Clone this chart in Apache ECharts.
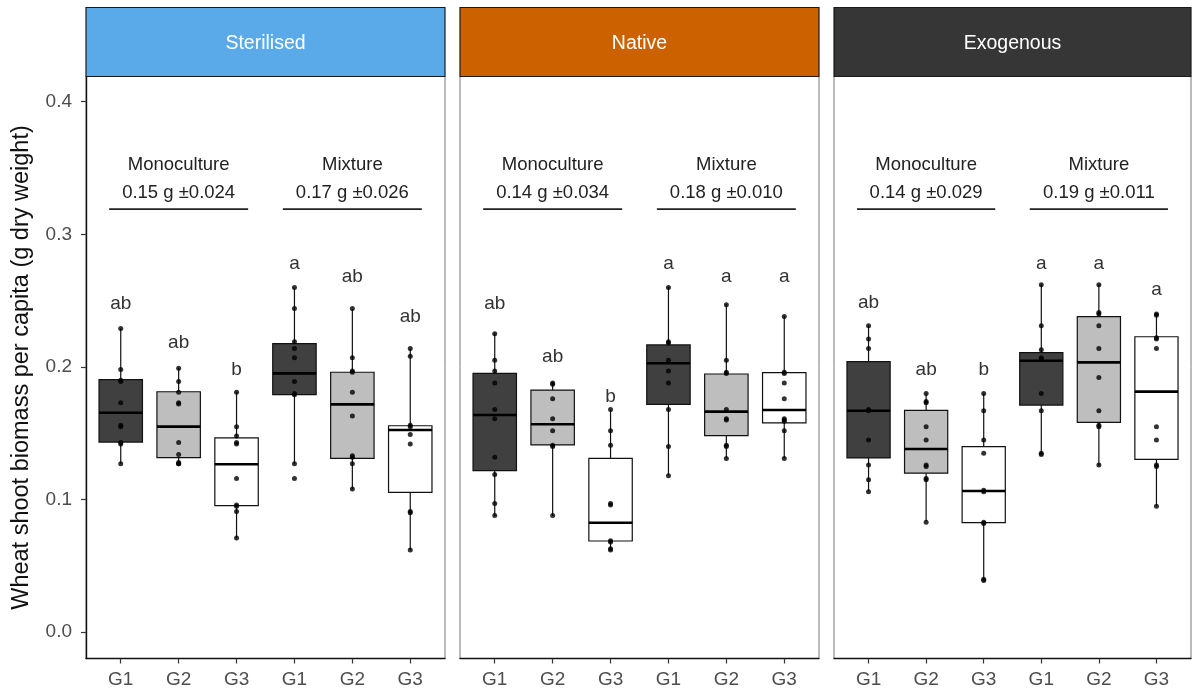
<!DOCTYPE html>
<html>
<head>
<meta charset="utf-8">
<script src="https://cdn.jsdelivr.net/npm/echarts@6.0.0/dist/echarts.min.js"></script>
<style>
  html, body { margin: 0; padding: 0; background: #ffffff; }
  #chart { width: 1192px; height: 693px; }
</style>
</head>
<body>
<div id="chart"></div>
<script>
// ---------------- data ----------------
const panelNames = ['Sterilised', 'Native', 'Exogenous'];
const xLabels = ['G1', 'G2', 'G3', 'G1', 'G2', 'G3'];
const yTicks = [0.0, 0.1, 0.2, 0.3, 0.4];
const groupNames = ['Monoculture', 'Mixture'];
const groupMeans = [[0.15, 0.17], [0.14, 0.18], [0.14, 0.19]];
const groupErrors = [[0.024, 0.026], [0.034, 0.010], [0.029, 0.011]];
const yTitle = 'Wheat shoot biomass per capita (g dry weight)';

// box stats: [min (lower whisker), Q1, median, Q3, max (upper whisker)]
const sterilisedBoxes = [
  [0.127, 0.1434, 0.1655, 0.1904, 0.229],
  [0.127, 0.1316, 0.155, 0.1813, 0.1995],
  [0.0708, 0.0954, 0.1266, 0.1465, 0.1813],
  [0.127, 0.1792, 0.1952, 0.2176, 0.2598],
  [0.1078, 0.1311, 0.1718, 0.196, 0.2437],
  [0.062, 0.1055, 0.1525, 0.1557, 0.2138]
];
const nativeBoxes = [
  [0.0877, 0.1218, 0.1638, 0.1952, 0.2254],
  [0.0877, 0.1412, 0.1568, 0.1826, 0.1877],
  [0.0625, 0.0688, 0.0826, 0.1311, 0.1676],
  [0.1183, 0.1718, 0.2028, 0.2166, 0.2605],
  [0.1311, 0.1482, 0.1663, 0.1947, 0.2472],
  [0.1311, 0.1578, 0.1676, 0.1957, 0.2384]
];
const exogenousBoxes = [
  [0.106, 0.1314, 0.167, 0.204, 0.2311],
  [0.0834, 0.1199, 0.1382, 0.1673, 0.180],
  [0.0394, 0.0826, 0.1065, 0.1399, 0.180],
  [0.1349, 0.1713, 0.2047, 0.2108, 0.2623],
  [0.1256, 0.1583, 0.2035, 0.2379, 0.2623],
  [0.0952, 0.1304, 0.1814, 0.2228, 0.2404]
];

// individual observations per group
const sterilisedPoints = [
  [0.229, 0.198, 0.190, 0.189, 0.173, 0.156, 0.155, 0.143, 0.142, 0.127],
  [0.199, 0.189, 0.181, 0.173, 0.172, 0.143, 0.134, 0.128, 0.127, 0.127],
  [0.181, 0.155, 0.148, 0.143, 0.142, 0.116, 0.096, 0.095, 0.091, 0.071],
  [0.260, 0.244, 0.219, 0.214, 0.207, 0.189, 0.180, 0.179, 0.127, 0.116],
  [0.244, 0.207, 0.197, 0.196, 0.181, 0.163, 0.133, 0.132, 0.127, 0.108],
  [0.214, 0.208, 0.156, 0.155, 0.149, 0.142, 0.091, 0.090, 0.062]
];
const nativePoints = [
  [0.225, 0.205, 0.197, 0.188, 0.168, 0.161, 0.132, 0.119, 0.097, 0.088],
  [0.188, 0.187, 0.176, 0.161, 0.152, 0.141, 0.140, 0.088],
  [0.168, 0.152, 0.141, 0.097, 0.096, 0.069, 0.068, 0.063, 0.062],
  [0.260, 0.219, 0.218, 0.205, 0.197, 0.188, 0.168, 0.140, 0.118],
  [0.247, 0.205, 0.196, 0.195, 0.168, 0.161, 0.160, 0.141, 0.140, 0.131],
  [0.238, 0.196, 0.195, 0.188, 0.176, 0.161, 0.160, 0.159, 0.152, 0.131]
];
const exogenousPoints = [
  [0.231, 0.221, 0.214, 0.168, 0.167, 0.145, 0.126, 0.115, 0.106],
  [0.180, 0.174, 0.173, 0.155, 0.145, 0.126, 0.125, 0.116, 0.115, 0.083],
  [0.180, 0.167, 0.145, 0.135, 0.107, 0.106, 0.083, 0.082, 0.040, 0.039],
  [0.262, 0.231, 0.213, 0.207, 0.206, 0.180, 0.167, 0.135, 0.134],
  [0.262, 0.241, 0.240, 0.231, 0.214, 0.192, 0.167, 0.156, 0.155, 0.126],
  [0.240, 0.239, 0.222, 0.221, 0.214, 0.155, 0.145, 0.126, 0.125, 0.095]
];

// significance letters and their heights
const sterilisedLetters = ['ab', 'ab', 'b', 'a', 'ab', 'ab'];
const nativeLetters = ['ab', 'ab', 'b', 'a', 'a', 'a'];
const exogenousLetters = ['ab', 'ab', 'b', 'a', 'a', 'a'];
const sterilisedLetterY = [0.248, 0.218, 0.198, 0.2776, 0.268, 0.238];
const nativeLetterY = [0.248, 0.2077, 0.1776, 0.2776, 0.268, 0.268];
const exogenousLetterY = [0.2484, 0.1982, 0.1982, 0.278, 0.278, 0.258];

// ---------------- layout / style ----------------
const FONT = "'Liberation Sans', Arial, Helvetica, sans-serif";
const stripColors = ['#5AAAEA', '#CC6100', '#363636'];
const boxFills = ['#404040', '#BEBEBE', '#FFFFFF'];
const panelLeft = [86, 460, 834];
const panelWidth = [359, 359, 357];
const panelTop = 76.5;
const panelBottom = 658.5;
const stripTop = 7.5;
const annotLineY = 0.319;
const annotNameY = 0.3525;
const annotValueY = 0.3315;

const allBoxes = [sterilisedBoxes, nativeBoxes, exogenousBoxes];
const allPoints = [sterilisedPoints, nativePoints, exogenousPoints];
const allLetters = [sterilisedLetters, nativeLetters, exogenousLetters];
const allLetterY = [sterilisedLetterY, nativeLetterY, exogenousLetterY];

const chart = echarts.init(document.getElementById('chart'), null, { renderer: 'canvas' });

const grids = [], xAxes = [], yAxes = [], series = [], graphics = [];
const xTickValues = xLabels.map((_, i) => i + 1);

panelNames.forEach((name, p) => {
  grids.push({
    left: panelLeft[p], top: panelTop, width: panelWidth[p], height: panelBottom - panelTop,
    show: true, borderColor: '#777777', borderWidth: 1, backgroundColor: '#ffffff'
  });
  xAxes.push({
    type: 'value', gridIndex: p, min: 0.4, max: 6.6,
    axisLine: { show: true, onZero: false, lineStyle: { color: '#111', width: 1.4 } },
    axisTick: { show: true, customValues: xTickValues, length: 5, lineStyle: { color: '#333', width: 1.2 } },
    axisLabel: {
      show: true, customValues: xTickValues, margin: 12,
      formatter: v => xLabels[Math.round(v) - 1] || '',
      color: '#4d4d4d', fontSize: 19, fontFamily: FONT
    },
    splitLine: { show: false }
  });
  yAxes.push({
    type: 'value', gridIndex: p, min: -0.0198, max: 0.419,
    name: p === 0 ? yTitle : '', nameLocation: 'middle', nameGap: 52,
    nameTextStyle: { color: '#111', fontSize: 23.5, fontFamily: FONT },
    axisLine: { show: p === 0, onZero: false, lineStyle: { color: '#111', width: 1.4 } },
    axisTick: { show: p === 0, customValues: yTicks, length: 5, lineStyle: { color: '#333', width: 1.2 } },
    axisLabel: {
      show: p === 0, customValues: yTicks, margin: 14,
      formatter: v => v.toFixed(1),
      color: '#4d4d4d', fontSize: 19, fontFamily: FONT
    },
    splitLine: { show: false }
  });

  // boxes
  series.push({
    type: 'custom', xAxisIndex: p, yAxisIndex: p, z: 2,
    data: allBoxes[p].map((b, i) => [i + 1].concat(b)),
    renderItem: function (params, api) {
      const x = api.value(0);
      const idx = params.dataIndex;
      const half = api.size([1, 0])[0] * 0.375;
      const pMin = api.coord([x, api.value(1)]);
      const pQ1 = api.coord([x, api.value(2)]);
      const pMed = api.coord([x, api.value(3)]);
      const pQ3 = api.coord([x, api.value(4)]);
      const pMax = api.coord([x, api.value(5)]);
      const fill = boxFills[idx % 3];
      return {
        type: 'group',
        children: [
          { type: 'line', shape: { x1: pQ3[0], y1: pQ3[1], x2: pMax[0], y2: pMax[1] },
            style: { stroke: '#111', lineWidth: 1.2 } },
          { type: 'line', shape: { x1: pQ1[0], y1: pQ1[1], x2: pMin[0], y2: pMin[1] },
            style: { stroke: '#111', lineWidth: 1.2 } },
          { type: 'rect', shape: { x: pQ3[0] - half, y: pQ3[1], width: half * 2, height: pQ1[1] - pQ3[1] },
            style: { fill: fill, stroke: '#111', lineWidth: 1.2 } },
          { type: 'line', shape: { x1: pMed[0] - half, y1: pMed[1], x2: pMed[0] + half, y2: pMed[1] },
            style: { stroke: '#000', lineWidth: 2.6 } }
        ]
      };
    }
  });

  // points
  const pts = [];
  allPoints[p].forEach((arr, i) => arr.forEach(v => pts.push([i + 1, v])));
  series.push({
    type: 'scatter', xAxisIndex: p, yAxisIndex: p, z: 3,
    symbol: 'circle', symbolSize: 5,
    itemStyle: { color: '#000' },
    data: pts, silent: true
  });

  // letters
  series.push({
    type: 'custom', xAxisIndex: p, yAxisIndex: p, z: 4,
    data: allLetterY[p].map((y, i) => [i + 1, y]),
    renderItem: function (params, api) {
      const c = api.coord([api.value(0), api.value(1)]);
      return {
        type: 'text',
        style: {
          text: allLetters[p][params.dataIndex], x: c[0], y: c[1],
          align: 'center', verticalAlign: 'middle',
          fill: '#333', fontSize: 19, fontFamily: FONT
        }
      };
    }
  });

  // group annotations (Monoculture / Mixture)
  series.push({
    type: 'custom', xAxisIndex: p, yAxisIndex: p, z: 4,
    data: groupNames.map((g, gi) => [gi * 3 + 2, gi]),
    renderItem: function (params, api) {
      const xc = api.value(0);
      const gi = params.dataIndex;
      const l = api.coord([xc - 1.2, annotLineY]);
      const r = api.coord([xc + 1.2, annotLineY]);
      const tn = api.coord([xc, annotNameY]);
      const tv = api.coord([xc, annotValueY]);
      const txt = groupMeans[p][gi].toFixed(2) + ' g \u00B1' + groupErrors[p][gi].toFixed(3);
      return {
        type: 'group',
        children: [
          { type: 'line', shape: { x1: l[0], y1: l[1], x2: r[0], y2: r[1] },
            style: { stroke: '#222', lineWidth: 1.6 } },
          { type: 'text', style: { text: groupNames[gi], x: tn[0], y: tn[1], align: 'center', verticalAlign: 'middle',
              fill: '#222', fontSize: 18.5, fontFamily: FONT } },
          { type: 'text', style: { text: txt, x: tv[0], y: tv[1], align: 'center', verticalAlign: 'middle',
              fill: '#222', fontSize: 18.5, fontFamily: FONT } }
        ]
      };
    }
  });

  // strip
  graphics.push({
    type: 'rect', z: 10,
    shape: { x: panelLeft[p], y: stripTop, width: panelWidth[p], height: panelTop - stripTop },
    style: { fill: stripColors[p], stroke: '#1a1a1a', lineWidth: 1.2 }
  });
  graphics.push({
    type: 'text', z: 11,
    x: panelLeft[p] + panelWidth[p] / 2, y: (stripTop + panelTop) / 2 + 2,
    style: { text: name, fill: '#ffffff', fontSize: 19.5, fontFamily: FONT, align: 'center', verticalAlign: 'middle' }
  });
});

chart.setOption({
  backgroundColor: '#ffffff',
  animation: false,
  grid: grids,
  xAxis: xAxes,
  yAxis: yAxes,
  series: series,
  graphic: graphics
});
</script>
</body>
</html>
